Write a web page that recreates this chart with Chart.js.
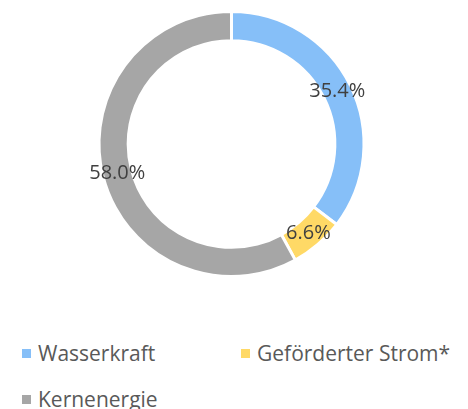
<!DOCTYPE html>
<html>
<head>
<meta charset="utf-8">
<script src="https://cdn.jsdelivr.net/npm/chart.js@4"></script>
<style>
  body { margin: 0; background: #fff; font-family: "Open Sans", sans-serif; }
  #wrap { position: relative; width: 468px; height: 290px; }
  #legend { position: absolute; left: 0; top: 339px; width: 468px; }
  .item { position: absolute; display: flex; align-items: center; color: #595959; font-size: 21px; line-height: 28px; white-space: nowrap; }
  .box { width: 9px; height: 9px; margin-right: 7px; }
</style>
</head>
<body>
<div id="wrap"><canvas id="myChart"></canvas></div>
<div id="legend"></div>
<script>
const labels = ["Wasserkraft", "Geförderter Strom*", "Kernenergie"];
const values = [35.4, 6.6, 58.0];
const colors = ["#86bff8", "#ffd966", "#a6a6a6"];

const ctx = document.getElementById("myChart");

// percent labels in the middle of each ring segment
const sliceLabels = {
  id: "sliceLabels",
  afterDatasetsDraw(chart) {
    const c = chart.ctx;
    const meta = chart.getDatasetMeta(0);
    c.save();
    c.font = '20px "Open Sans"';
    c.fillStyle = "#404040";
    c.textAlign = "center";
    c.textBaseline = "middle";
    meta.data.forEach((arc, i) => {
      const p = arc.tooltipPosition();
      c.fillText(values[i].toFixed(1) + "%", p.x, p.y);
    });
    c.restore();
  },
};

const chart = new Chart(ctx, {
  type: "doughnut",
  data: {
    labels: labels,
    datasets: [
      {
        data: values,
        backgroundColor: colors,
        borderColor: "#ffffff",
        borderWidth: 3,
      },
    ],
  },
  options: {
    responsive: true,
    maintainAspectRatio: false,
    animation: false,
    cutout: "78%",
    layout: { padding: { top: 10, bottom: 12, left: 0, right: 5 } },
    plugins: {
      legend: { display: false },
      tooltip: { enabled: false },
    },
  },
  plugins: [sliceLabels],
});

// legend below the chart, two columns
const legendPos = [
  [22, 0],
  [241, 0],
  [22, 46],
];
const legendEl = document.getElementById("legend");
chart.options.plugins.legend.labels.generateLabels(chart).forEach((item, i) => {
  const div = document.createElement("div");
  div.className = "item";
  div.style.left = legendPos[i][0] + "px";
  div.style.top = legendPos[i][1] + "px";
  div.innerHTML = '<span class="box" style="background:' + item.fillStyle + '"></span>' + item.text;
  legendEl.appendChild(div);
});
</script>
</body>
</html>
